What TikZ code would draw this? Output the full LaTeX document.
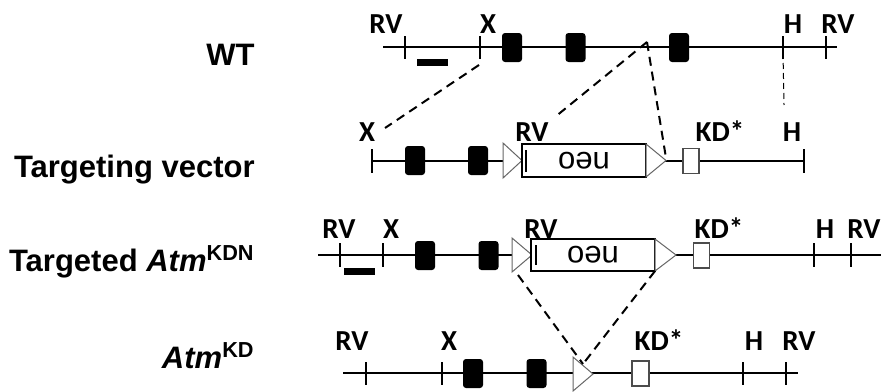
\documentclass[tikz,border=0pt]{standalone}
\usepackage{fontspec}
\setmainfont{Liberation Sans}
\newfontfamily\sitefont{Carlito}
\usetikzlibrary{positioning, calc}

\tikzset{
    chrom/.style={line width=0.8pt},
    site/.style={line width=0.9pt},
    exon/.style={fill=black, rounded corners=1.5pt, minimum width=10pt, minimum height=14.5pt, inner sep=0pt},
    kdbox/.style={draw=black!70, fill=white, line width=0.6pt, minimum width=8pt, minimum height=12.5pt, inner sep=0pt},
    neobox/.style={draw, fill=white, line width=1.2pt, minimum width=62pt, minimum height=16.5pt, inner sep=0pt, font=\fontsize{15.5}{17}\selectfont},
    loxp/.style={draw=black!60, fill=white, line width=0.5pt},
    probe/.style={fill=black, minimum width=15.5pt, minimum height=3.5pt, inner sep=0pt},
    sitelabel/.style={font=\sitefont\bfseries\fontsize{14.5}{17}\selectfont, anchor=base, inner sep=0pt},
    rowlabel/.style={font=\bfseries\fontsize{15.5}{18}\selectfont, anchor=base east, inner sep=0pt},
    link/.style={line width=1pt, dash pattern=on 4.5pt off 3pt}
}

\begin{document}
\begin{tikzpicture}[x=0.5pt, y=-0.5pt]
    \useasboundingbox (0,0) rectangle (881,391);

    % Row labels
    \node[rowlabel] (lblwt) at (255,65) {WT};
    \node[rowlabel] (lblvec) at (255,177) {Targeting vector};
    \node[rowlabel] (lblkdn) at (255,271) {Targeted \textit{Atm}\textsuperscript{KDN}};
    \node[rowlabel] (lblkd) at (255,368) {\textit{Atm}\textsuperscript{KD}};

    % WT allele
    \draw[chrom] (383,47) -- (837,47);
    \draw[site] (405,36) -- (405,59) (480,36) -- (480,59) (783,36) -- (783,59) (826,36) -- (826,59);
    \node[exon] (wtex1) at (512,47.5) {};
    \node[exon] (wtex2) at (575.5,47.5) {};
    \node[exon] (wtex3) at (679,47.5) {};
    \node[probe] (wtprobe) at (432.5,62.5) {};
    \node[sitelabel] (wtrv1) at (386,33) {RV};
    \node[sitelabel] (wtx) at (488,33) {X};
    \node[sitelabel] (wth) at (793,33) {H};
    \node[sitelabel] (wtrv2) at (838,33) {RV};
    \coordinate (wtxcut) at (479,65);
    \coordinate (wtapex) at (647,42);
    \coordinate (wthcut) at (783,53);

    % Targeting vector
    \draw[chrom] (372,161) -- (804,161);
    \draw[site] (372,149) -- (372,173) (804,149) -- (804,173);
    \node[exon] (vecex1) at (415,160.5) {};
    \node[exon] (vecex2) at (478,160.5) {};
    \draw[loxp] (503,143) -- (522,160.5) -- (503,178) -- cycle;
    \node[neobox] (vecneo) at (584,160.5) {\rotatebox{180}{neo}};
    \draw[line width=1pt] (526,150) -- (526,172);
    \draw[loxp] (646,144) -- (666,160.5) -- (646,177) -- cycle;
    \node[kdbox] (veckd) at (691,161) {};
    \node[sitelabel] (vecx) at (367,141) {X};
    \node[sitelabel] (vecrv) at (532,141) {RV};
    \node[sitelabel] (veckdlbl) at (720,141) {KD*};
    \node[sitelabel] (vech) at (792,141) {H};
    \coordinate (vecxend) at (385,128);
    \coordinate (vecrvend) at (555,117);
    \coordinate (veclox) at (666,158);
    \coordinate (vechend) at (784,105);

    % Targeted Atm KDN allele
    \draw[chrom] (318,255) -- (881,255);
    \draw[site] (340,243) -- (340,267) (383,243) -- (383,267) (814,243) -- (814,267) (851,243) -- (851,267);
    \node[probe] (kdnprobe) at (359,271.5) {};
    \node[exon] (kdnex1) at (425,255.5) {};
    \node[exon] (kdnex2) at (488.5,255.5) {};
    \draw[loxp] (512,238) -- (532,255) -- (512,272) -- cycle;
    \node[neobox, minimum height=16pt] (kdnneo) at (593,255) {\rotatebox{180}{neo}};
    \draw[line width=1pt] (536,245) -- (536,265);
    \draw[loxp] (655,239) -- (676,255) -- (655,271) -- cycle;
    \node[kdbox] (kdnkd) at (701.5,255.5) {};
    \node[sitelabel] (kdnrv1) at (339,238) {RV};
    \node[sitelabel] (kdnx) at (391,238) {X};
    \node[sitelabel] (kdnrv2) at (541,238) {RV};
    \node[sitelabel] (kdnkdlbl) at (719,238) {KD*};
    \node[sitelabel] (kdnh) at (825,238) {H};
    \node[sitelabel] (kdnrv3) at (864,238) {RV};
    \coordinate (kdnloxL) at (518,275);
    \coordinate (kdnloxR) at (655,271);

    % Atm KD allele
    \draw[chrom] (343,373) -- (798,373);
    \draw[site] (366,362) -- (366,385) (442,362) -- (442,385) (743,362) -- (743,385) (786,362) -- (786,385);
    \node[exon] (kdex1) at (473,373.5) {};
    \node[exon] (kdex2) at (536.5,373.5) {};
    \draw[loxp] (573,357) -- (593,374) -- (573,391) -- cycle;
    \node[kdbox, minimum width=8.5pt] (kdkd) at (640.5,373.5) {};
    \node[sitelabel] (kdrv1) at (352,350) {RV};
    \node[sitelabel] (kdx) at (449,350) {X};
    \node[sitelabel] (kdkdlbl) at (659,350) {KD*};
    \node[sitelabel] (kdh) at (754,350) {H};
    \node[sitelabel] (kdrv2) at (799,350) {RV};
    \coordinate (kdlox) at (583,364);

    % Recombination / excision lines
    \draw[link] (wtxcut) -- (vecxend);
    \draw[link] (wtapex) -- (vecrvend);
    \draw[link] (wtapex) -- (veclox);
    \draw[link, line width=0.5pt, dash pattern=on 3pt off 2pt] (wthcut) -- (vechend);
    \draw[link] (kdnloxL) -- (kdlox);
    \draw[link] (kdnloxR) -- (kdlox);
\end{tikzpicture}
\end{document}
